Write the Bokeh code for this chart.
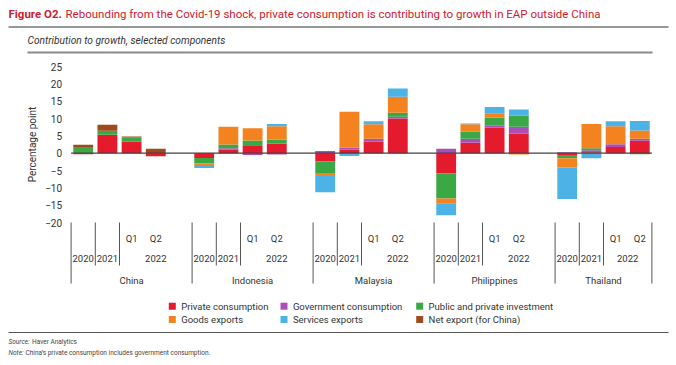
import numpy as np
from bokeh.plotting import figure
from bokeh.models import Range1d, LinearAxis, FixedTicker
from bokeh.core.properties import value
from bokeh.embed import file_html
from bokeh.resources import INLINE

# ---------------- data ----------------
COUNTRIES = ["China", "Indonesia", "Malaysia", "Philippines", "Thailand"]
QUARTER_LABELS = ["", "", "Q1", "Q2"]
YEAR_LABELS = ["2020", "2021", "2022", "2022"]
SERIES = ["Private consumption", "Government consumption", "Public and private investment",
          "Goods exports", "Services exports", "Net export (for China)"]
COLORS = ["#E31B2D", "#AA4FB8", "#3AA845", "#F4821F", "#4DB2E6", "#9E4A1E"]

# order: China(2020, 2021, Q1 22, Q2 22), Indonesia(...), Malaysia, Philippines, Thailand
private_consumption = [-0.3, 5.3, 3.3, -0.9,
                       -1.4, 1.05, 2.3, 2.8,
                       -2.4, 1.05, 3.3, 10.0,
                       -5.8, 3.0, 7.3, 5.65,
                       -0.5, 0.3, 1.8, 3.55]
government_consumption = [0.0, 0.0, 0.0, 0.0,
                          0.0, 0.4, -0.5, -0.4,
                          0.65, 0.6, 0.85, 0.5,
                          1.25, 1.15, 0.6, 2.0,
                          0.25, 0.55, 0.75, 0.6]
investment = [1.8, 1.2, 1.3, 0.0,
              -1.6, 1.05, 1.35, 1.15,
              -3.3, 0.0, 0.0, 1.15,
              -7.3, 2.1, 2.4, 3.25,
              -1.0, 0.55, 0.0, -0.3]
goods_exports = [0.0, 0.0, 0.0, 0.0,
                 -0.4, 5.1, 3.55, 3.85,
                 -0.6, 10.3, 4.2, 4.6,
                 -1.35, 2.1, 1.05, -0.4,
                 -2.6, 7.0, 5.2, 2.4]
services_exports = [0.0, 0.0, 0.0, 0.0,
                    -0.9, 0.0, 0.0, 0.6,
                    -5.0, -0.8, 0.85, 2.4,
                    -3.45, 0.2, 2.0, 1.7,
                    -9.1, -1.5, 1.45, 2.7]
net_export_china = [0.6, 1.7, 0.2, 1.3,
                    0.0, 0.0, 0.0, 0.0,
                    0.0, 0.0, 0.0, 0.0,
                    0.0, 0.0, 0.0, 0.0,
                    0.0, 0.0, 0.0, 0.0]
Y_TICKS = [-20, -15, -10, -5, 0, 5, 10, 15, 20, 25]

TITLE_BOLD = "Figure O2."
TITLE_REST = "Rebounding from the Covid-19 shock, private consumption is contributing to growth in EAP outside China"
SUBTITLE = "Contribution to growth, selected components"
Y_LABEL = "Percentage point"
SOURCE = ("Source:", "Haver Analytics")
NOTE = ("Note:", "China\u2019s private consumption includes government consumption.")

# ---------------- layout constants (page pixels) ----------------
FONT_NAME = "Roboto"
FONT = value(FONT_NAME)
W, H = 676, 365
AX_LEFT = 70.6
SLOT_PX = 24.2
Y_TOP_PAGE = 66.0          # page y of the top tick
PX_PER_UNIT = 156.0 / 45.0
BAR_W = 0.82
TXT = "#333333"
LBL = "9.5px"

# slot positions (blank spacer slot after each country except the last)
slot_x, country_spans = [], []
pos = 0
for ci, c in enumerate(COUNTRIES):
    start = pos
    for k in range(len(QUARTER_LABELS)):
        slot_x.append(pos + 0.5)
        pos += 1
    if ci < len(COUNTRIES) - 1:
        pos += 1
    country_spans.append((start, pos))
N_SLOTS = pos
slot_x = np.array(slot_x)

x_start = -AX_LEFT / SLOT_PX
y_end = Y_TICKS[-1] + Y_TOP_PAGE / PX_PER_UNIT

p = figure(width=W, height=H, output_backend="svg", toolbar_location=None,
           x_axis_type=None, y_axis_type=None,
           x_range=Range1d(x_start, x_start + W / SLOT_PX),
           y_range=Range1d(y_end - H / PX_PER_UNIT, y_end),
           min_border=0, min_border_left=0, min_border_right=0,
           min_border_top=0, min_border_bottom=0, outline_line_color=None)
p.grid.visible = False
p.background_fill_color = "white"
p.border_fill_color = "white"
p.extra_x_ranges = {"page": Range1d(0, W)}
p.extra_y_ranges = {"page": Range1d(H, 0)}
PG = dict(x_range_name="page", y_range_name="page")

# ---------------- stacked bars ----------------
vals = np.array([private_consumption, government_consumption, investment,
                 goods_exports, services_exports, net_export_china])
pos_base = np.zeros(vals.shape[1])
neg_base = np.zeros(vals.shape[1])
for s in range(vals.shape[0]):
    v = vals[s]
    bottom = np.where(v >= 0, pos_base, neg_base + v)
    top = np.where(v >= 0, pos_base + v, neg_base)
    m = v != 0
    p.vbar(x=slot_x[m], width=BAR_W, bottom=bottom[m], top=top[m],
           fill_color=COLORS[s], line_color=None)
    pos_base = np.where(v >= 0, pos_base + v, pos_base)
    neg_base = np.where(v < 0, neg_base + v, neg_base)

# zero line
p.segment(x0=[0], y0=[0], x1=[N_SLOTS], y1=[0], line_color="#404040", line_width=1.2)

# y axis
yaxis = LinearAxis(ticker=FixedTicker(ticks=Y_TICKS), fixed_location=0,
                   axis_line_color=None, major_tick_line_color=None, minor_tick_line_color=None,
                   major_label_text_font=FONT_NAME, major_label_text_font_size="10px",
                   major_label_text_color=TXT, major_label_standoff=3,
                   major_label_overrides={t: str(t).replace("-", "\u2212") for t in Y_TICKS})
p.add_layout(yaxis, "left")

p.text(x=[32], y=[144], text=[Y_LABEL], angle=np.pi / 2, text_font=FONT,
       text_font_size="10px", text_color=TXT, text_align="center",
       text_baseline="middle", **PG)

# ---------------- multi-level category axis ----------------
inner_sep, outer_sep = [], []
for ci, (a, b) in enumerate(country_spans):
    outer_sep.append(a)
    inner_sep += [a + 1, a + 2]
outer_sep.append(N_SLOTS)
p.segment(x0=inner_sep, y0=[222] * len(inner_sep), x1=inner_sep, y1=[265] * len(inner_sep),
          y_range_name="page", line_color="#555555", line_width=1)
p.segment(x0=outer_sep, y0=[222] * len(outer_sep), x1=outer_sep, y1=[283] * len(outer_sep),
          y_range_name="page", line_color="#555555", line_width=1)

q_x, q_t, yr_x, yr_t, c_x = [], [], [], [], []
for ci, (a, b) in enumerate(country_spans):
    for k, ql in enumerate(QUARTER_LABELS):
        if ql:
            q_x.append(a + k + 0.5)
            q_t.append(ql)
    yr_x += [a + 0.5, a + 1.5, (a + 2 + b) / 2]
    yr_t += [YEAR_LABELS[0], YEAR_LABELS[1], YEAR_LABELS[2]]
    c_x.append((a + b) / 2)
lab = dict(y_range_name="page", text_font=FONT, text_font_size=LBL, text_color=TXT,
           text_align="center", text_baseline="middle")
p.text(x=q_x, y=[237.7] * len(q_x), text=q_t, **lab)
p.text(x=yr_x, y=[257.7] * len(yr_x), text=yr_t, **lab)
p.text(x=c_x, y=[280] * len(c_x), text=COUNTRIES, **lab)

# ---------------- titles ----------------
p.text(x=[8], y=[13], text=[TITLE_BOLD], text_font=FONT, text_font_style="bold",
       text_font_size="11.5px", text_color="#D0202E", text_baseline="middle", **PG)
p.text(x=[65], y=[13], text=[TITLE_REST], text_font=FONT,
       text_font_size="11.5px", text_color="#D0202E", text_baseline="middle", **PG)
p.segment(x0=[8], y0=[26.5], x1=[668], y1=[26.5], line_color="#333333", line_width=1, **PG)
p.text(x=[27], y=[40], text=[SUBTITLE], text_font=FONT, text_font_style="italic",
       text_font_size="10.2px", text_color=TXT, text_baseline="middle", **PG)
p.segment(x0=[27], y0=[52], x1=[652], y1=[52], line_color="#8a8a8a", line_width=2, **PG)

# ---------------- legend ----------------
LEG_COL_X = [168.3, 280.0, 415.7]
LEG_ROW_Y = [305.7, 319.0]
for i, name in enumerate(SERIES):
    cx = LEG_COL_X[i % 3]
    cy = LEG_ROW_Y[i // 3]
    p.rect(x=[cx + 3.5], y=[cy], width=7, height=7, fill_color=COLORS[i], line_color=None, **PG)
    p.text(x=[cx + 12.4], y=[cy], text=[name], text_font=FONT, text_font_size=LBL,
           text_color=TXT, text_baseline="middle", **PG)

# ---------------- footer ----------------
p.segment(x0=[8], y0=[332], x1=[668], y1=[332], line_color="#555555", line_width=1, **PG)
foot = dict(text_font=FONT, text_font_size="6.5px", text_color="#444444", text_baseline="middle")
p.text(x=[8], y=[341], text=[SOURCE[0]], text_font_style="italic", **foot, **PG)
p.text(x=[31.5], y=[341], text=[SOURCE[1]], **foot, **PG)
p.text(x=[8], y=[352], text=[NOTE[0]], text_font_style="italic", **foot, **PG)
p.text(x=[25], y=[352], text=[NOTE[1]], **foot, **PG)

open("out.html", "w").write(file_html(p, INLINE))
